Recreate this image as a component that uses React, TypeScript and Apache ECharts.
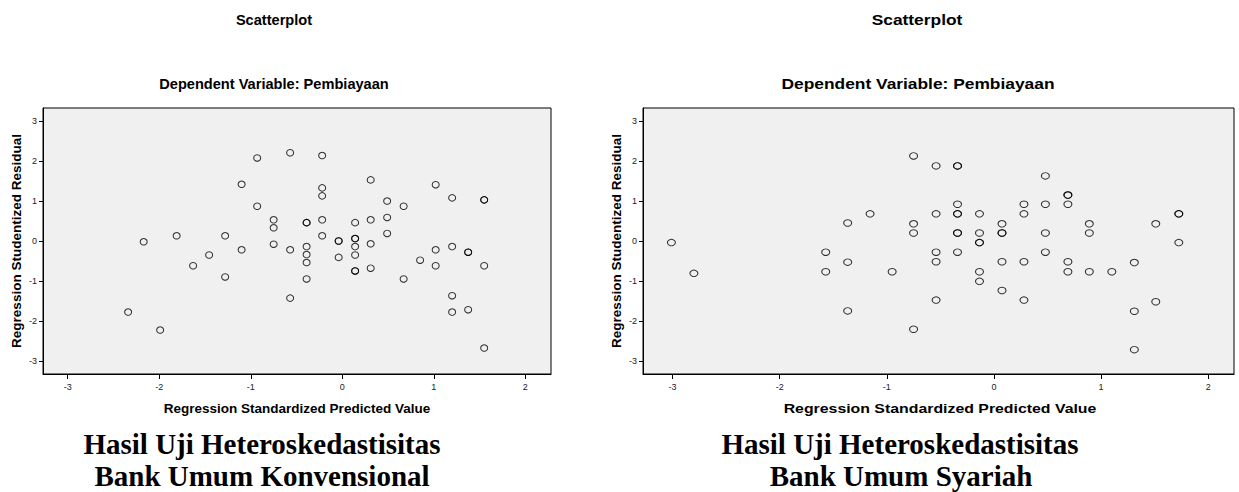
import React, { useEffect, useRef } from "react";
import * as echarts from "echarts";

// Tick values shared by both plots
const xTicks = [-3, -2, -1, 0, 1, 2];
const yTicks = [-3, -2, -1, 0, 1, 2, 3];

// Bank Umum Konvensional: Regression Standardized Predicted Value (x) / Studentized Residual (y)
const konvX = [
  -2.34, -1.99, -2.17, -1.81, -1.63, -1.455, -1.28, -1.28, -1.1, -1.1,
  -0.93, -0.93, -0.75, -0.75, -0.75, -0.57, -0.57, -0.57, -0.39, -0.39,
  -0.39, -0.39, -0.39, -0.39, -0.22, -0.22, -0.22, -0.22, -0.22, -0.04,
  -0.04, -0.04, 0.14, 0.14, 0.14, 0.14, 0.14, 0.14, 0.14, 0.31,
  0.31, 0.31, 0.31, 0.49, 0.49, 0.49, 0.67, 0.67, 0.85, 1.02,
  1.02, 1.02, 1.2, 1.2, 1.2, 1.2, 1.375, 1.375, 1.375, 1.55,
  1.55, 1.55, 1.55,
];
const konvY = [
  -1.78, -2.23, -0.02, 0.13, -0.62, -0.35, 0.13, -0.9, 1.42, -0.22,
  2.08, 0.87, 0.53, 0.33, -0.08, 2.21, -0.22, -1.43, 0.46, 0.46,
  -0.14, -0.34, -0.54, -0.95, 2.14, 1.33, 1.13, 0.53, 0.13, 0.0,
  0.0, -0.41, 0.46, 0.06, 0.06, -0.14, -0.35, -0.75, -0.75, 1.53,
  0.53, -0.07, -0.68, 1.0, 0.59, 0.19, 0.87, -0.95, -0.48, 1.41,
  -0.22, -0.62, 1.08, -0.14, -1.37, -1.78, -0.28, -0.28, -1.72, 1.03,
  1.03, -0.62, -2.68,
];

// Bank Umum Syariah
const syariahX = [
  -3.01, -2.8, -1.57, -1.57, -1.365, -1.365, -1.365, -1.156, -0.95, -0.75,
  -0.75, -0.75, -0.75, -0.54, -0.54, -0.54, -0.54, -0.54, -0.34, -0.34,
  -0.34, -0.34, -0.34, -0.34, -0.34, -0.34, -0.135, -0.135, -0.135, -0.135,
  -0.135, -0.135, 0.075, 0.075, 0.075, 0.075, 0.075, 0.28, 0.28, 0.28,
  0.28, 0.48, 0.48, 0.48, 0.48, 0.69, 0.69, 0.69, 0.69, 0.69,
  0.89, 0.89, 0.89, 1.1, 1.31, 1.31, 1.31, 1.51, 1.51, 1.725,
  1.725, 1.725,
];
const syariahY = [
  -0.04, -0.81, -0.28, -0.77, 0.45, -0.53, -1.75, 0.68, -0.77, 2.13,
  0.43, 0.2, -2.21, 1.88, 0.68, -0.28, -0.52, -1.48, 1.88, 1.88,
  0.92, 0.68, 0.68, 0.2, 0.2, -0.28, 0.68, 0.2, -0.04, -0.04,
  -0.77, -1.01, 0.43, 0.2, 0.2, -0.52, -1.24, 0.92, 0.68, -0.52,
  -1.48, 1.63, 0.92, 0.2, -0.28, 1.15, 1.15, 0.92, -0.52, -0.77,
  0.43, 0.2, -0.77, -0.77, -0.54, -1.76, -2.72, 0.43, -1.52, 0.68,
  0.68, -0.04,
];

const titleText = "Scatterplot";
const subtitleText = "Dependent Variable: Pembiayaan";
const xName = "Regression Standardized Predicted Value";
const yName = "Regression Studentized Residual";
const captionLeft = ["Hasil Uji Heteroskedastisitas", "Bank Umum Konvensional"];
const captionRight = ["Hasil Uji Heteroskedastisitas", "Bank Umum Syariah"];

const SANS = '"Liberation Sans", Arial, sans-serif';
const SERIF = '"Liberation Serif", "Times New Roman", serif';

function makeXAxis(gridIndex: number, min: number, max: number) {
  return {
    type: "value",
    gridIndex,
    min,
    max,
    axisLine: { show: true, onZero: false, lineStyle: { color: "#000", width: 1 } },
    axisTick: { show: true, customValues: xTicks, length: 5, lineStyle: { color: "#000" } },
    axisLabel: {
      customValues: xTicks,
      fontSize: 9,
      color: "#222",
      fontFamily: SANS,
      margin: 8,
      formatter: (v: number) => (Number.isInteger(v) ? String(v) : ""),
    },
    splitLine: { show: false },
  };
}

function makeYAxis(gridIndex: number) {
  return {
    type: "value",
    gridIndex,
    min: -3.33,
    max: 3.33,
    axisLine: { show: true, onZero: false, lineStyle: { color: "#000", width: 1 } },
    axisTick: { show: true, customValues: yTicks, length: 4, lineStyle: { color: "#000" } },
    axisLabel: {
      customValues: yTicks,
      fontSize: 9,
      color: "#222",
      fontFamily: SANS,
      margin: 6,
      formatter: (v: number) => (Number.isInteger(v) ? String(v) : ""),
    },
    splitLine: { show: false },
  };
}

function txt(text: string, x: number, y: number, font: string, size: number, bold: boolean, scaleX = 1, rotation = 0) {
  return {
    type: "text",
    x,
    y,
    scaleX,
    rotation,
    silent: true,
    style: {
      text,
      fontFamily: font,
      fontSize: size,
      fontWeight: bold ? "bold" : "normal",
      fill: "#000",
      align: "center",
      verticalAlign: "middle",
    },
  };
}

export default function App() {
  const ref = useRef<HTMLDivElement>(null);

  useEffect(() => {
    document.body.style.margin = "0";
    if (!ref.current) return;
    const chart = echarts.init(ref.current, undefined, { renderer: "svg" });

    const leftData = konvX.map((x, i) => [x, konvY[i]]);
    const rightData = syariahX.map((x, i) => [x, syariahY[i]]);

    const RS = 1.19; // horizontal stretch of the right-hand chart

    chart.setOption({
      animation: false,
      backgroundColor: "#fff",
      grid: [
        { left: 43, top: 108, width: 508, height: 266, show: true, backgroundColor: "#f0f0f0", borderColor: "#000", borderWidth: 1 },
        { left: 643, top: 108, width: 591, height: 266, show: true, backgroundColor: "#f0f0f0", borderColor: "#000", borderWidth: 1 },
      ],
      xAxis: [makeXAxis(0, -3.27, 2.28), makeXAxis(1, -3.275, 2.24)],
      yAxis: [makeYAxis(0), makeYAxis(1)],
      series: [
        {
          type: "scatter",
          xAxisIndex: 0,
          yAxisIndex: 0,
          data: leftData,
          symbol: "circle",
          symbolSize: [7, 6.5],
          silent: true,
          itemStyle: { color: "rgba(0,0,0,0)", borderColor: "#000", borderWidth: 1 },
        },
        {
          type: "scatter",
          xAxisIndex: 1,
          yAxisIndex: 1,
          data: rightData,
          symbol: "circle",
          symbolSize: [8, 6.5],
          silent: true,
          itemStyle: { color: "rgba(0,0,0,0)", borderColor: "#000", borderWidth: 1 },
        },
      ],
      graphic: [
        txt(titleText, 274, 20, SANS, 14.6, true),
        txt(subtitleText, 274, 84, SANS, 14.6, true),
        txt(titleText, 917, 20, SANS, 14.6, true, RS),
        txt(subtitleText, 918, 84, SANS, 14.6, true, RS),
        txt(xName, 297, 408, SANS, 13.5, true),
        txt(xName, 940, 408, SANS, 13.5, true, 1.175),
        txt(yName, 16, 241, SANS, 13.5, true, 1, Math.PI / 2),
        txt(yName, 616, 241, SANS, 13.5, true, 1, Math.PI / 2),
        txt(captionLeft[0], 262, 444, SERIF, 29, true),
        txt(captionLeft[1], 262, 476, SERIF, 29, true),
        txt(captionRight[0], 900, 444, SERIF, 29, true),
        txt(captionRight[1], 901, 476, SERIF, 29, true),
      ],
    });

    return () => chart.dispose();
  }, []);

  return <div ref={ref} style={{ width: 1239, height: 492 }} />;
}
